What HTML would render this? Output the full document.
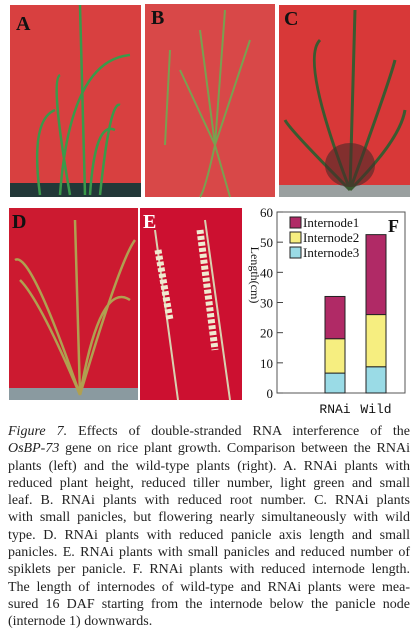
<!DOCTYPE html>
<html><head><meta charset="utf-8"><style>
body{margin:0;width:418px;height:641px;background:#fff;position:relative;overflow:hidden;font-family:"Liberation Serif",serif}
.ph{position:absolute}
#cap{position:absolute;left:8px;top:423px;width:402px;font-size:14px;line-height:17.3px;color:#222}
#cap div{text-align:justify;text-align-last:justify;white-space:nowrap}
#cap div.last{text-align-last:left}
</style></head><body>
<svg class="ph" width="418" height="410" style="left:0;top:0">
 <g>
  <rect x="10" y="5" width="131" height="192" fill="#d84040"/>
  <rect x="10" y="183" width="131" height="14" fill="#223838"/>
  <path d="M80 5 L85 195 M60 195 Q70 60 130 55 M40 195 Q30 120 55 110 M100 195 Q110 100 120 105 M70 195 Q50 80 60 75 M90 195 Q95 120 115 130" stroke="#3a9a4a" stroke-width="2.5" fill="none"/>
  <text x="16" y="30" font-size="20" font-weight="bold" fill="#111">A</text>
 </g>
 <g>
  <rect x="145" y="4" width="130" height="193" fill="#d84848"/>
  <path d="M215 145 L200 30 M215 145 L225 10 M215 145 L250 40 M215 145 L180 70 M165 145 L170 50 M215 145 Q205 190 200 197 M215 145 Q225 180 230 197" stroke="#7aa050" stroke-width="2" fill="none"/>
  <text x="151" y="24" font-size="20" font-weight="bold" fill="#111">B</text>
 </g>
 <g>
  <rect x="279" y="5" width="131" height="192" fill="#d83838"/>
  <rect x="279" y="185" width="131" height="12" fill="#9aa0a0"/>
  <path d="M350 190 L355 10 M350 190 Q300 60 320 40 M350 190 Q390 80 395 60 M350 190 Q290 130 285 120 M350 190 Q400 140 405 110" stroke="#3a5a30" stroke-width="3" fill="none"/>
  <ellipse cx="350" cy="165" rx="25" ry="22" fill="#4a2a28" opacity=".6"/>
  <text x="284" y="25" font-size="20" font-weight="bold" fill="#111">C</text>
 </g>
 <g>
  <rect x="9" y="208" width="129" height="192" fill="#cc1a30"/>
  <rect x="9" y="388" width="129" height="12" fill="#8a9aa0"/>
  <path d="M80 395 L75 220 M80 395 Q40 300 20 280 M80 395 Q120 260 135 240 M80 395 Q30 250 15 260 M80 395 Q100 280 130 300" stroke="#b0a050" stroke-width="2.5" fill="none"/>
  <text x="12" y="228" font-size="20" font-weight="bold" fill="#111">D</text>
 </g>
 <g>
  <rect x="140" y="208" width="102" height="192" fill="#cc1030"/>
  <path d="M155 230 L178 400 M205 220 L230 400" stroke="#d8d0b0" stroke-width="2" fill="none"/>
  <path d="M158 250 L170 320 M200 230 L215 350" stroke="#f0ead0" stroke-width="7" fill="none" stroke-dasharray="4 2"/>
  <text x="143" y="228" font-size="20" font-weight="bold" fill="#fff">E</text>
 </g>
</svg>
<svg id="chart" class="ph" width="170" height="215" style="left:248px;top:200px"></svg>
<div id="cap">
<div><i>Figure 7.</i> Effects of double-stranded RNA interference of the</div>
<div><i>OsBP-73</i> gene on rice plant growth. Comparison between the RNAi</div>
<div>plants (left) and the wild-type plants (right). A. RNAi plants with</div>
<div>reduced plant height, reduced tiller number, light green and small</div>
<div>leaf. B. RNAi plants with reduced root number. C. RNAi plants</div>
<div>with small panicles, but flowering nearly simultaneously with wild</div>
<div>type. D. RNAi plants with reduced panicle axis length and small</div>
<div>panicles. E. RNAi plants with small panicles and reduced number of</div>
<div>spiklets per panicle. F. RNAi plants with reduced internode length.</div>
<div>The length of internodes of wild-type and RNAi plants were mea-</div>
<div>sured 16 DAF starting from the internode below the panicle node</div>
<div class="last">(internode 1) downwards.</div>
</div>
<script>
const categories=["RNAi","Wild"];
const internode3=[6.6,8.7];
const internode2=[11.4,17.3];
const internode1=[14,26.5];
const yTicks=[0,10,20,30,40,50,60];
const seriesNames=["Internode1","Internode2","Internode3"];
const colors=["#b02a66","#f6ee80","#9adbe6"];
const ns="http://www.w3.org/2000/svg";
const svg=document.getElementById('chart');
const x0=29,yb=193,yt=12,x1=157;
const y=v=>yb-(v/60)*(yb-yt);
const bx=i=>[77,118][i];
const bw=20;
function mk(t,a,p){const e=document.createElementNS(ns,t);for(const k in a)e.setAttribute(k,a[k]);(p||svg).appendChild(e);return e;}
const frame=mk('rect',{x:x0,y:yt,width:x1-x0,height:yb-yt,fill:'none',stroke:'#555','stroke-width':1});


yTicks.forEach(t=>{
 const l=mk('line',{x1:x0,x2:x0+6,y1:y(t),y2:y(t),stroke:'#444'});
 
 
 const tx=mk('text',{x:x0-4,y:y(t)+5,'text-anchor':'end','font-size':13,fill:'#111'});
 tx.textContent=t;
 
 
});
const yt2=mk('text',{transform:'translate(3,75) rotate(90)','text-anchor':'middle','font-size':12,fill:'#111'});
yt2.textContent='Length(cm)';


categories.forEach((c,i)=>{
 const stack=[internode3[i],internode2[i],internode1[i]];
 const cols=[colors[2],colors[1],colors[0]];
 let base=0;
 stack.forEach((v,j)=>{
  const r=mk('rect',{x:bx(i),y:y(base+v),width:bw,height:y(base)-y(base+v),fill:cols[j],stroke:'#222','stroke-width':1});
  
  
  base+=v;
 });
 const lb=mk('text',{x:bx(i)+bw/2,y:213,'text-anchor':'middle','font-size':13,'font-family':'Liberation Mono, monospace',fill:'#111'});
 lb.textContent=c;
 
 
});
seriesNames.forEach((n,i)=>{
 const r=mk('rect',{x:42,y:17+i*15,width:11,height:11,fill:colors[i],stroke:'#222'});
 
 
 const t=mk('text',{x:55,y:27+i*15,'font-size':13,fill:'#111'});
 t.textContent=n;
 
 
});
const F=mk('text',{x:140,y:32,'font-size':18,'font-weight':'bold',fill:'#111'});
F.textContent='F';


</script>
</body></html>
